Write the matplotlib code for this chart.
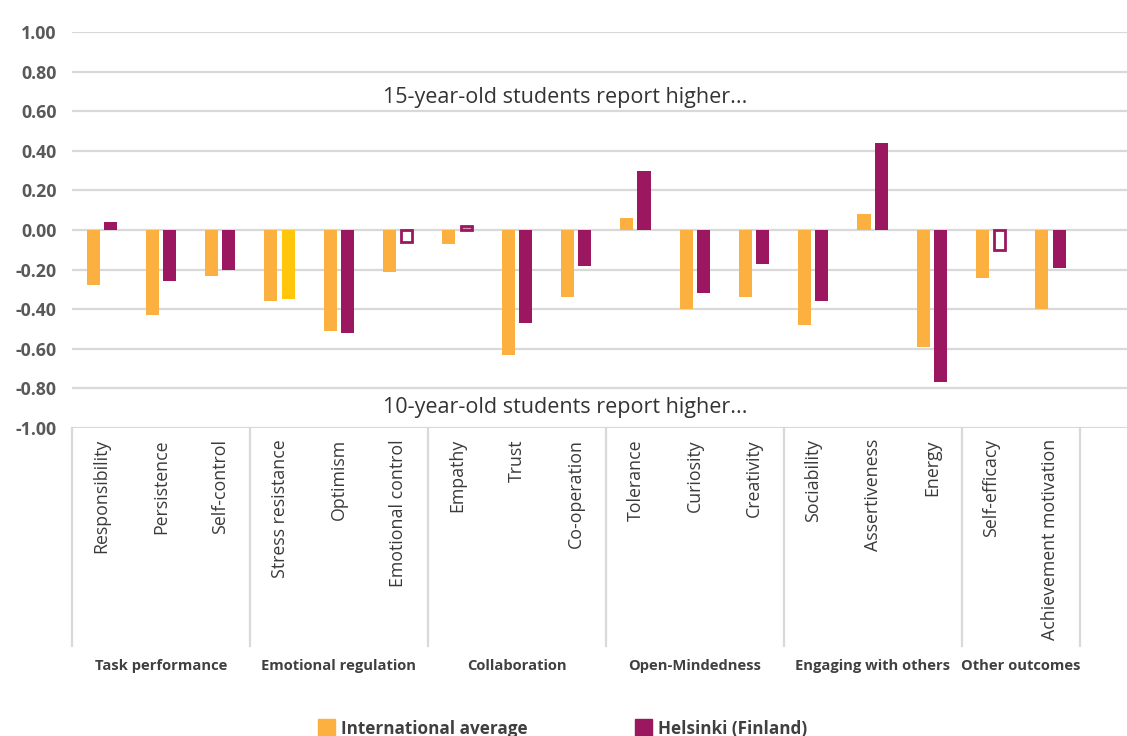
import matplotlib.pyplot as plt
from matplotlib.patches import Rectangle
import numpy as np

plt.rcParams['font.family'] = ['Open Sans', 'DejaVu Sans']

categories = ["Responsibility", "Persistence", "Self-control",
              "Stress resistance", "Optimism", "Emotional control",
              "Empathy", "Trust", "Co-operation",
              "Tolerance", "Curiosity", "Creativity",
              "Sociability", "Assertiveness", "Energy",
              "Self-efficacy", "Achievement motivation"]
groups = ["Task performance", "Emotional regulation", "Collaboration",
          "Open-Mindedness", "Engaging with others", "Other outcomes"]
group_sizes = [3, 3, 3, 3, 3, 2]

international = [-0.28, -0.43, -0.23, -0.36, -0.51, -0.21, -0.07, -0.63, -0.34,
                 0.06, -0.40, -0.34, -0.48, 0.08, -0.59, -0.24, -0.40]
helsinki = [0.04, -0.26, -0.20, -0.35, -0.52, -0.06, 0.02, -0.47, -0.18,
            0.30, -0.32, -0.17, -0.36, 0.44, -0.77, -0.10, -0.19]
# bar style for Helsinki: "solid", "yellow", "hollow", "light"
helsinki_style = ["solid", "solid", "solid", "yellow", "solid", "hollow",
                  "light", "solid", "solid", "solid", "solid", "solid",
                  "solid", "solid", "solid", "hollow", "solid"]
yticks = [-1.0, -0.8, -0.6, -0.4, -0.2, 0.0, 0.2, 0.4, 0.6, 0.8, 1.0]

ORANGE = "#FBB040"
PURPLE = "#9B1760"
YELLOW = "#FFC60B"
GRID = "#D9D9D9"
TXT = "#595959"

fig = plt.figure(figsize=(11.27, 7.36), dpi=100)
ax = fig.add_axes([72 / 1127, 1 - 428 / 736, 1 - 72 / 1127, 396 / 736])

x = np.arange(len(categories))
w = 0.22
ax.bar(x - 0.145, international, width=w, color=ORANGE, zorder=3)
for xi, v, s in zip(x, helsinki, helsinki_style):
    if s == "solid":
        ax.bar(xi + 0.145, v, width=w, color=PURPLE, zorder=3)
    elif s == "yellow":
        ax.bar(xi + 0.145, v, width=w, color=YELLOW, zorder=3)
    elif s == "hollow":
        ax.bar(xi + 0.145, v, width=w * 0.85, facecolor="white",
               edgecolor=PURPLE, linewidth=2, zorder=3)
    else:
        ax.bar(xi + 0.145, v, width=w * 0.85, facecolor="#D58FB3",
               edgecolor=PURPLE, linewidth=2, zorder=3)

ax.set_xlim(-0.5, 17.29)
ax.set_ylim(-1, 1)
ax.set_yticks(yticks)
ax.set_yticklabels([f"{t:.2f}" for t in yticks],
                   fontsize=12.8, fontweight="bold", color=TXT)
ax.yaxis.grid(True, color=GRID, linewidth=1.6, zorder=0)
ax.tick_params(axis="y", length=0, pad=11)
ax.tick_params(axis="x", length=0, pad=8)
for sp in ax.spines.values():
    sp.set_visible(False)
ax.axhline(-1, color=GRID, linewidth=2, zorder=1)

ax.set_xticks(x)
ax.set_xticklabels(categories, rotation=90, fontsize=12.8, color="#3A3A3A",
                   va="top", ha="center")

# category group separators and labels
tr = ax.get_xaxis_transform()
bounds = np.concatenate([[0], np.cumsum(group_sizes)]) - 0.5
for b in bounds:
    ax.plot([b, b], [0, -0.551], color=GRID, linewidth=1.6, transform=tr,
            clip_on=False)
for g, lo, hi in zip(groups, bounds[:-1], bounds[1:]):
    ax.text((lo + hi) / 2, -0.6, g, transform=tr, ha="center", va="center",
            fontsize=10.6, fontweight="bold", color="#404040")

ax.text(7.81, 0.67, "15-year-old students report higher...", ha="center",
        va="center", fontsize=15.5, color="#333333")
ax.text(7.81, -0.895, "10-year-old students report higher...", ha="center",
        va="center", fontsize=15.5, color="#333333")

# legend
for (xp, label, col) in [(318, "International average", ORANGE),
                         (635, "Helsinki (Finland)", PURPLE)]:
    fig.add_artist(Rectangle((xp / 1127, 0), 17 / 1127, 17 / 736,
                             transform=fig.transFigure, color=col))
    fig.text((xp + 23) / 1127, 7 / 736, label, fontsize=12.3, fontweight="bold",
             color="#404040", va="center", ha="left")

fig.savefig("out.png", dpi=100)
